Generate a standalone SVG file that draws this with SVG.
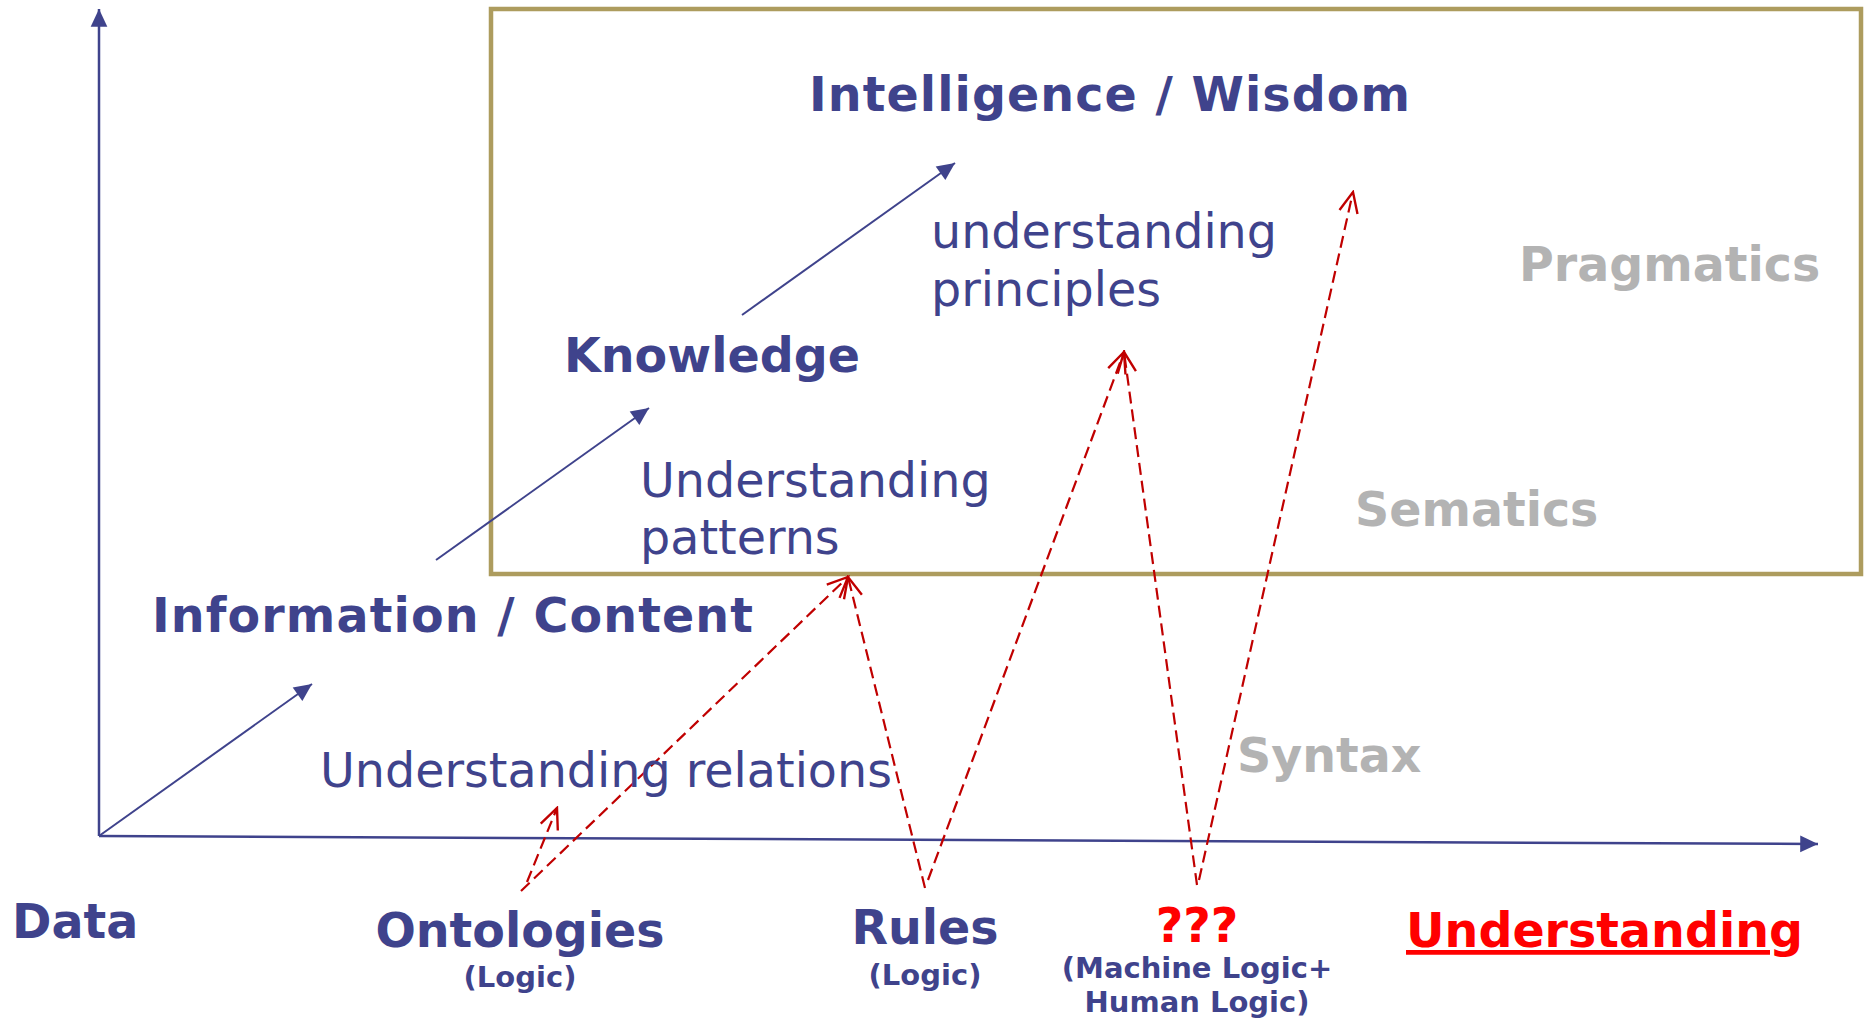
<svg xmlns="http://www.w3.org/2000/svg" width="1866" height="1019" viewBox="0 0 1866 1019">
  <style>
    .bold { font-family: "DejaVu Sans", Verdana, sans-serif; font-weight: bold; font-size: 47.5px; fill: #3F438C; }
    .reg { font-family: "DejaVu Sans", Verdana, sans-serif; font-size: 47.6px; fill: #3F438C; }
    .gray { font-family: "DejaVu Sans", Verdana, sans-serif; font-weight: bold; font-size: 47.5px; fill: #B3B3B3; }
    .small { font-family: "DejaVu Sans", Verdana, sans-serif; font-weight: bold; font-size: 29px; fill: #3F438C; }
    .red { font-family: "DejaVu Sans", Verdana, sans-serif; font-weight: bold; font-size: 47.5px; fill: #FF0000; }
    .axis { stroke: #3F438C; stroke-width: 2.5; fill: none; }
    .blue { stroke: #3F438C; stroke-width: 2; fill: none; marker-end: url(#blueHead); }
    .dash { stroke: #C00000; stroke-width: 2.2; fill: none; stroke-dasharray: 12 6; marker-end: url(#redHead); }
  </style>
  <defs>
    <marker id="blueHead" markerUnits="userSpaceOnUse" markerWidth="20" markerHeight="20" viewBox="-17 -9 18 18" refX="0" refY="0" orient="auto">
      <path d="M0,0 L-16,-7.5 L-16,7.5 Z" fill="#3F438C"/>
    </marker>
    <marker id="redHead" markerUnits="userSpaceOnUse" markerWidth="26" markerHeight="26" viewBox="-22 -12 24 24" refX="0" refY="0" orient="auto">
      <path d="M-19,-8.5 L0,0 L-19,8.5" fill="none" stroke="#C00000" stroke-width="2.2" stroke-dasharray="none"/>
    </marker>
  </defs>
  <rect width="1866" height="1019" fill="#FFFFFF"/>

  <g id="frame">
    <rect x="491" y="9" width="1370" height="565" fill="none" stroke="#AD9C5E" stroke-width="4.5"/>
  </g>

  <g id="connectors">
    <line id="y-axis" class="axis" x1="99" y1="836" x2="99" y2="9" marker-end="url(#blueHead)"/>
    <line id="x-axis" class="axis" x1="99" y1="836" x2="1818" y2="844" marker-end="url(#blueHead)"/>
    <line class="blue" x1="99" y1="836" x2="312" y2="684"/>
    <line class="blue" x1="436" y1="560" x2="649" y2="408"/>
    <line class="blue" x1="742" y1="315" x2="955" y2="163"/>
    <line class="dash" x1="527" y1="882" x2="557" y2="808"/>
    <line class="dash" x1="521" y1="891" x2="848" y2="577"/>
    <line class="dash" x1="925" y1="888" x2="848" y2="577"/>
    <line class="dash" x1="928" y1="880" x2="1124" y2="352"/>
    <line class="dash" x1="1197" y1="885" x2="1124" y2="352"/>
    <line class="dash" x1="1199" y1="880" x2="1353" y2="192"/>
  </g>

  <g id="wisdom"><text class="bold" x="809" y="111" textLength="601" lengthAdjust="spacing">Intelligence / Wisdom</text></g>
  <g id="principles">
    <text class="reg" x="931" y="248">understanding</text>
    <text class="reg" x="931" y="306">principles</text>
  </g>
  <g id="pragmatics"><text class="gray" x="1519" y="281">Pragmatics</text></g>
  <g id="knowledge"><text class="bold" x="564" y="372">Knowledge</text></g>
  <g id="patterns">
    <text class="reg" x="640" y="497">Understanding</text>
    <text class="reg" x="640" y="554">patterns</text>
  </g>
  <g id="semantics"><text class="gray" x="1355" y="526">Sematics</text></g>
  <g id="information"><text class="bold" x="152" y="632" textLength="601" lengthAdjust="spacing">Information / Content</text></g>
  <g id="relations"><text class="reg" x="320" y="787">Understanding relations</text></g>
  <g id="syntax"><text class="gray" x="1237" y="772">Syntax</text></g>
  <g id="data"><text class="bold" x="12" y="938" font-size="45">Data</text></g>
  <g id="ontologies">
    <text class="bold" x="520" y="947" text-anchor="middle">Ontologies</text>
    <text class="small" x="520" y="987" text-anchor="middle">(Logic)</text>
  </g>
  <g id="rules">
    <text class="bold" x="925" y="944" text-anchor="middle">Rules</text>
    <text class="small" x="925" y="985" text-anchor="middle">(Logic)</text>
  </g>
  <g id="unknown">
    <text class="red" x="1197" y="942" text-anchor="middle">???</text>
    <text class="small" x="1197" y="978" text-anchor="middle">(Machine Logic+</text>
    <text class="small" x="1197" y="1012" text-anchor="middle">Human Logic)</text>
  </g>
  <g id="understanding"><text class="red" x="1406" y="947" text-decoration="underline">Understanding</text></g>
</svg>
